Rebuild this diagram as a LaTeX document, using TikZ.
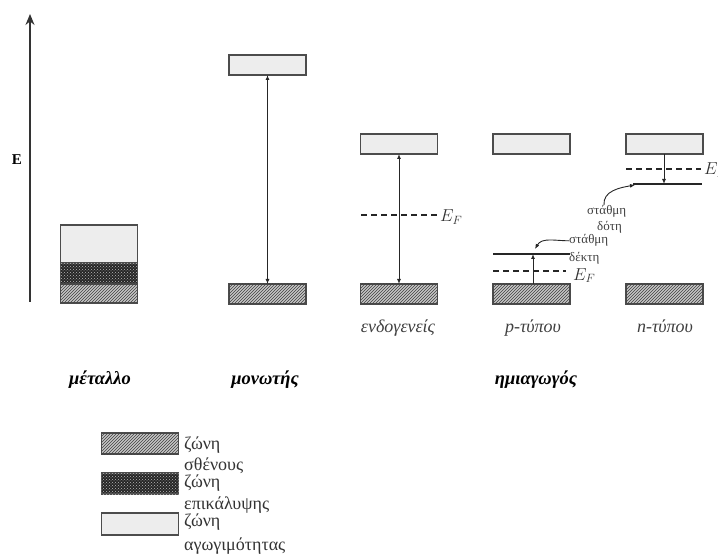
\documentclass[tikz,border=0pt]{standalone}
\usepackage{fontspec}
\setmainfont{Liberation Serif}
\usetikzlibrary{patterns,arrows.meta}
\definecolor{edge}{gray}{0.3}
\definecolor{light}{gray}{0.93}
\tikzset{
  band/.style={draw=edge, line width=1.3pt, minimum width=77pt, inner sep=0pt, outer sep=0pt},
  cband/.style={band, fill=light, minimum height=20pt},
  vband/.style={band, fill=gray!45, postaction={pattern=north east lines, pattern color=black!75}, minimum height=20pt},
  oband/.style={band, fill=black!85, postaction={pattern=crosshatch dots, pattern color=gray!55}, minimum height=21pt},
  lvl/.style={line width=1.2pt, draw=black!85},
  fermi/.style={line width=1.2pt, draw=black!85, dash pattern=on 6pt off 4pt},
  gap/.style={line width=0.9pt, draw=black!85, {Latex[length=5pt,width=4pt]}-{Latex[length=5pt,width=4pt]}},
  onearrow/.style={line width=0.9pt, draw=black!85, -{Latex[length=5pt,width=4pt]}},
  lbl/.style={font=\fontsize{18}{20}\selectfont\itshape, text=black!75, inner sep=0pt, anchor=base},
  cat/.style={font=\fontsize{18.5}{20}\selectfont\bfseries\itshape, inner sep=0pt, anchor=base},
  small/.style={font=\fontsize{13}{14}\selectfont, text=black!75, inner sep=0pt, anchor=base west},
  leg/.style={font=\fontsize{18}{20}\selectfont, text=black!80, inner sep=0pt, anchor=base west},
  ef/.style={font=\fontsize{17}{18}\selectfont, text=black!80, inner sep=0pt, anchor=base west},
}
\begin{document}
\begin{tikzpicture}[x=1pt,y=-1pt]
\useasboundingbox (0,0) rectangle (718,556);
% axis
\coordinate (ax0) at (30,302);
\coordinate (ax1) at (30,14);
\draw[line width=1.5pt, draw=black!80, -{Stealth[length=11pt,width=9pt]}] (ax0) -- (ax1);
\node[font=\fontsize{15}{16}\selectfont\bfseries, inner sep=0pt] (E) at (17,160) {E};

% metal
\node[cband, minimum height=38pt] (mc) at (99,244) {};
\node[oband] (mo) at (99,273.5) {};
\node[vband, minimum height=19pt] (mv) at (99,293.5) {};

% insulator
\node[cband] (ic) at (267.5,65) {};
\node[vband] (iv) at (267.5,294) {};
\draw[gap] (iv.north) -- (ic.south);

% intrinsic
\node[cband] (nc) at (399,144) {};
\node[vband] (nv) at (399,294) {};
\coordinate (nf1) at (361,215);
\coordinate (nf2) at (437,215);
\draw[fermi] (nf1) -- (nf2);
\node[ef] (nef) at (440,222) {$E_F$};
\draw[gap] (nv.north) -- (nc.south);

% p-type
\node[cband] (pc) at (531.5,144) {};
\node[vband] (pv) at (531.5,294) {};
\coordinate (pa1) at (493,254);
\coordinate (pa2) at (570,254);
\draw[lvl] (pa1) -- (pa2);
\coordinate (pf1) at (493,271);
\coordinate (pf2) at (566,271);
\draw[fermi] (pf1) -- (pf2);
\node[ef] (pef) at (573,280) {$E_F$};
\coordinate (pt) at (533,254);
\draw[onearrow] (pv.north -| pt) -- (pt);
\node[small] (ps1) at (569,244) {στάθμη};
\node[small] (ps2) at (569,262) {δέκτη};
\coordinate (pdot) at (535,249);
\draw[onearrow] (ps1.west) to[out=180, in=60] (pdot);

% n-type
\node[cband] (qc) at (664.5,144) {};
\node[vband] (qv) at (664.5,294) {};
\coordinate (qf1) at (626,169);
\coordinate (qf2) at (701,169);
\draw[fermi] (qf1) -- (qf2);
\node[ef] (qef) at (704,175) {$E_F$};
\coordinate (qd1) at (633,184);
\coordinate (qd2) at (702,184);
\draw[lvl] (qd1) -- (qd2);
\coordinate (qt) at (664,184);
\draw[onearrow] (qc.south -| qt) -- (qt);
\node[small] (qs1) at (587,215) {στάθμη};
\node[small] (qs2) at (597,231) {δότη};
\coordinate (qs0) at (604,205);
\coordinate (qdot) at (635,185);
\draw[onearrow] (qs0) to[out=95, in=190] (qdot);

% labels
\node[lbl] (l1) at (398,333) {ενδογενείς};
\node[lbl] (l2) at (533,333) {p-τύπου};
\node[lbl] (l3) at (665,333) {n-τύπου};
\node[cat] (c1) at (100,384) {μέταλλο};
\node[cat] (c2) at (265,384) {μονωτής};
\node[cat] (c3) at (536,384) {ημιαγωγός};

% legend
\node[vband, minimum height=21pt] (g1) at (140,443.5) {};
\node[oband] (g2) at (140,483.5) {};
\node[cband, minimum height=22pt] (g3) at (140,524) {};
\node[leg] (t1) at (184,449) {ζώνη};
\node[leg] (t2) at (184,470) {σθένους};
\node[leg] (t3) at (184,487) {ζώνη};
\node[leg] (t4) at (184,509) {επικάλυψης};
\node[leg] (t5) at (184,526) {ζώνη};
\node[leg] (t6) at (184,550) {αγωγιμότητας};
\end{tikzpicture}
\end{document}
